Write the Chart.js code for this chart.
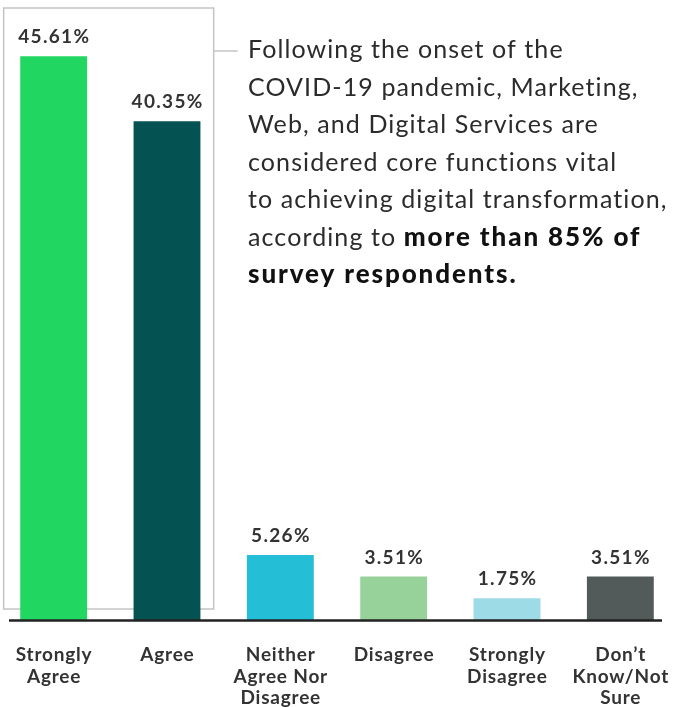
<!DOCTYPE html>
<html>
<head>
<meta charset="utf-8">
<script src="https://cdn.jsdelivr.net/npm/chart.js@4/dist/chart.umd.min.js"></script>
<style>
  html, body { margin: 0; padding: 0; background: #fff; overflow: hidden; }
  #wrap { position: absolute; left: -3px; top: 0; width: 680px; height: 707px; }
</style>
</head>
<body>
<div id="wrap"><canvas id="bars"></canvas></div>
<script>
// survey answers and their shares
const categories = [
    ["Strongly", "Agree"],
    ["Agree"],
    ["Neither", "Agree Nor", "Disagree"],
    ["Disagree"],
    ["Strongly", "Disagree"],
    ["Don\u2019t", "Know/Not", "Sure"]
];
const shares = [45.61, 40.35, 5.26, 3.51, 1.75, 3.51];
const barColors = ["#21d762", "#045252", "#24bfd6", "#98d29b", "#9ddbe6", "#525a5a"];

const noteLines = [
    [["Following the onset of the", false]],
    [["COVID-19 pandemic, Marketing,", false]],
    [["Web, and Digital Services are", false]],
    [["considered core functions vital", false]],
    [["to achieving digital transformation,", false]],
    [["according to ", false], ["more than 85% of", true]],
    [["survey respondents.", true]]
];

const FONT = "Lato, 'Noto Sans', sans-serif";

const decorations = {
    id: "decorations",
    beforeDatasetsDraw(chart) {
        const c = chart.ctx;
        const x = chart.scales.x;
        c.save();
        // frame around the leading bar
        c.strokeStyle = "#c4c4c4";
        c.lineWidth = 1.5;
        const left = x.getPixelForValue(0) - 50;
        const right = x.getPixelForValue(0) + 160;
        c.strokeRect(left, 8, right - left, 601);
        // callout tick
        c.beginPath();
        c.moveTo(right, 51);
        c.lineTo(right + 24, 51);
        c.stroke();
        c.restore();
    },
    afterDatasetsDraw(chart) {
        const c = chart.ctx;
        const x = chart.scales.x;
        const area = chart.chartArea;
        c.save();
        // baseline
        c.strokeStyle = "#222";
        c.lineWidth = 2.5;
        c.beginPath();
        c.moveTo(12, area.bottom + 0.5);
        c.lineTo(665, area.bottom + 0.5);
        c.stroke();

        // value labels
        c.fillStyle = "#333";
        c.textAlign = "center";
        c.textBaseline = "alphabetic";
        c.font = "bold 19px " + FONT;
        c.letterSpacing = "1.3px";
        chart.getDatasetMeta(0).data.forEach((bar, i) => {
            c.fillText(shares[i].toFixed(2) + "%", bar.x + 0.6, bar.y - 13);
        });

        // category labels
        c.font = "bold 19px " + FONT;
        c.letterSpacing = "0.8px";
        categories.forEach((lines, i) => {
            const cx = x.getPixelForValue(i) + 0.4;
            lines.forEach((t, j) => c.fillText(t, cx, 661 + j * 21.7));
        });

        // note text
        c.textAlign = "left";
        noteLines.forEach((segs, j) => {
            let tx = 251;
            segs.forEach(([t, bold]) => {
                c.font = (bold ? "900 26px " : "25px ") + FONT;
                c.letterSpacing = bold ? "1.9px" : "1.1px";
                c.fillStyle = bold ? "#111" : "#2b2b2b";
                c.fillText(t, tx, 58 + j * 37.5);
                tx += c.measureText(t).width;
            });
        });
        c.restore();
    }
};

new Chart(document.getElementById("bars"), {
    type: "bar",
    data: {
        labels: categories,
        datasets: [{
            data: shares,
            backgroundColor: barColors,
            borderWidth: 0,
            barPercentage: 1,
            categoryPercentage: 0.59
        }]
    },
    options: {
        responsive: true,
        maintainAspectRatio: false,
        animation: false,
        layout: {padding: {top: 2, bottom: 87, left: 0, right: 0}},
        plugins: {legend: {display: false}, tooltip: {enabled: false}},
        scales: {
            x: {display: false},
            y: {display: false, min: 0, max: 50}
        }
    },
    plugins: [decorations]
});
</script>
</body>
</html>
